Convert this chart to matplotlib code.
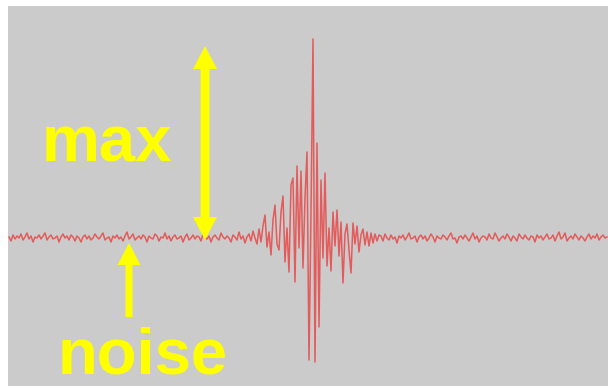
import numpy as np
import matplotlib
matplotlib.use("Agg")
import matplotlib.pyplot as plt
from matplotlib.patches import FancyArrow
from matplotlib.transforms import Affine2D

# Recorded trace (amplitude relative to the baseline), in three stretches
noise_before = [
    1, -3, 3, -1, 2, 0, 4, -2, 1, 5, -1, 2, -4, 1, 0, 3, -1, 2, 5, -2,
    1, 3, -1, 0, 2, -4, 1, 4, 0, 2, -2, 3, 1, -3, 2, 0, -4, 1, 3, -1,
    2, -2, 0, 4, 1, -1, 2, 5, -2, 0, 1, -4, 2, 0, 3, -1, 1, -3, 2, 6,
    -1, 1, 4, -2, 0, 2, -1, 3, 1, -4, 2, 0, -1, 4, 2, -3, 1, 0, 5, -1,
    2, -3, 1, 3, -1, 0, 2, -4, 1, 4, -2, 0, 3, -1, 2, 1, -3, 4, 0, -1,
    2, -4, 1, 3, 0, -2, 5, 1, -1, 2, 0, -4, 3, 1, -2, 6, -1, 2, -5, 1,
]
burst = [
    4, -3, 7, 0, -6, 9, -4, 12, 23, -9,
    6, -17, 18, 33, -6, -12, 26, 42, -24, 10,
    -34, 53, 60, -44, 72, -10, 67, -30, 40, 86,
    -122, 25, 199, -124, 95, -89, 58, -20, 65, -28,
    10, -33, 26, -8, 28, -18, 16, -45, 4, 14,
    -12, -35, 15, -6, 12, -14, 3, 9, -7, 6,
    -8, 5, -5, 4, -3, 3,
]
noise_after = [
    2, -3, 4, 0, -2, 3, -1, 1, -5, 2, 0, 3, -2, 1, 5, -1, 0, 2, -4, 1,
    3, -1, 2, -3, 0, 4, 1, -4, 2, 0, -1, 3, 1, -2, 2, 5, -1, 0, -5, 1,
    2, -1, 3, 0, -3, 1, 5, -1, 2, -4, 0, 2, 1, -2, 4, 0, -1, 5, 1, -3,
    0, 2, -1, 4, 1, -3, 2, 0, -3, 4, 1, -1, 3, 0, -2, 2, 1, -4, 3, 0,
    2, -2, 1, 4, -1, 0, 3, -3, 2, 6, -1, 1, 5, -3, 0, 2, -1, 4, 1, -2,
    2, 0, -3, 1, 4, -1, 2, 0, 4, -2, 1, 3, 0, 1,
]

signal = np.array(noise_before + burst + noise_after, dtype=float)
samples = np.arange(len(signal))

W, H = 608, 391
fig = plt.figure(figsize=(W / 100, H / 100), dpi=100, facecolor="white")
ax = fig.add_axes([8 / W, 5 / H, 600 / W, 380 / H])
ax.set_facecolor("#cbcbcb")
for s in ax.spines.values():
    s.set_visible(False)
ax.set_xticks([])
ax.set_yticks([])

ax.plot(samples, signal, color="#e84848", lw=1.1, alpha=0.85)
ax.set_xlim(-0.5, len(signal) - 0.5)
ax.set_ylim(-148, 232)

# pixel-space transform (origin top-left) for the annotations
pix = Affine2D().scale(1, -1).translate(0, H)
yellow = "#ffff00"

def arrow(x, y0, y1, shaft, hw, hl):
    a = FancyArrow(x, y0, 0, y1 - y0, width=shaft, head_width=hw, head_length=hl,
                   length_includes_head=True, transform=pix, color=yellow, lw=0)
    fig.add_artist(a)

# double-headed "max" arrow
arrow(205, 143, 46, 9, 24, 23)
arrow(205, 143, 240, 9, 24, 23)
# "noise" arrow
arrow(129, 317, 243, 7, 23, 22)

fig.text(42, 162, "max", transform=pix, color=yellow, fontsize=47,
         fontweight="bold", family="Liberation Sans", va="baseline", ha="left")
fig.text(58, 374, "noise", transform=pix, color=yellow, fontsize=47,
         fontweight="bold", family="Liberation Sans", va="baseline", ha="left")

fig.savefig("out.png", dpi=100, facecolor="white")
